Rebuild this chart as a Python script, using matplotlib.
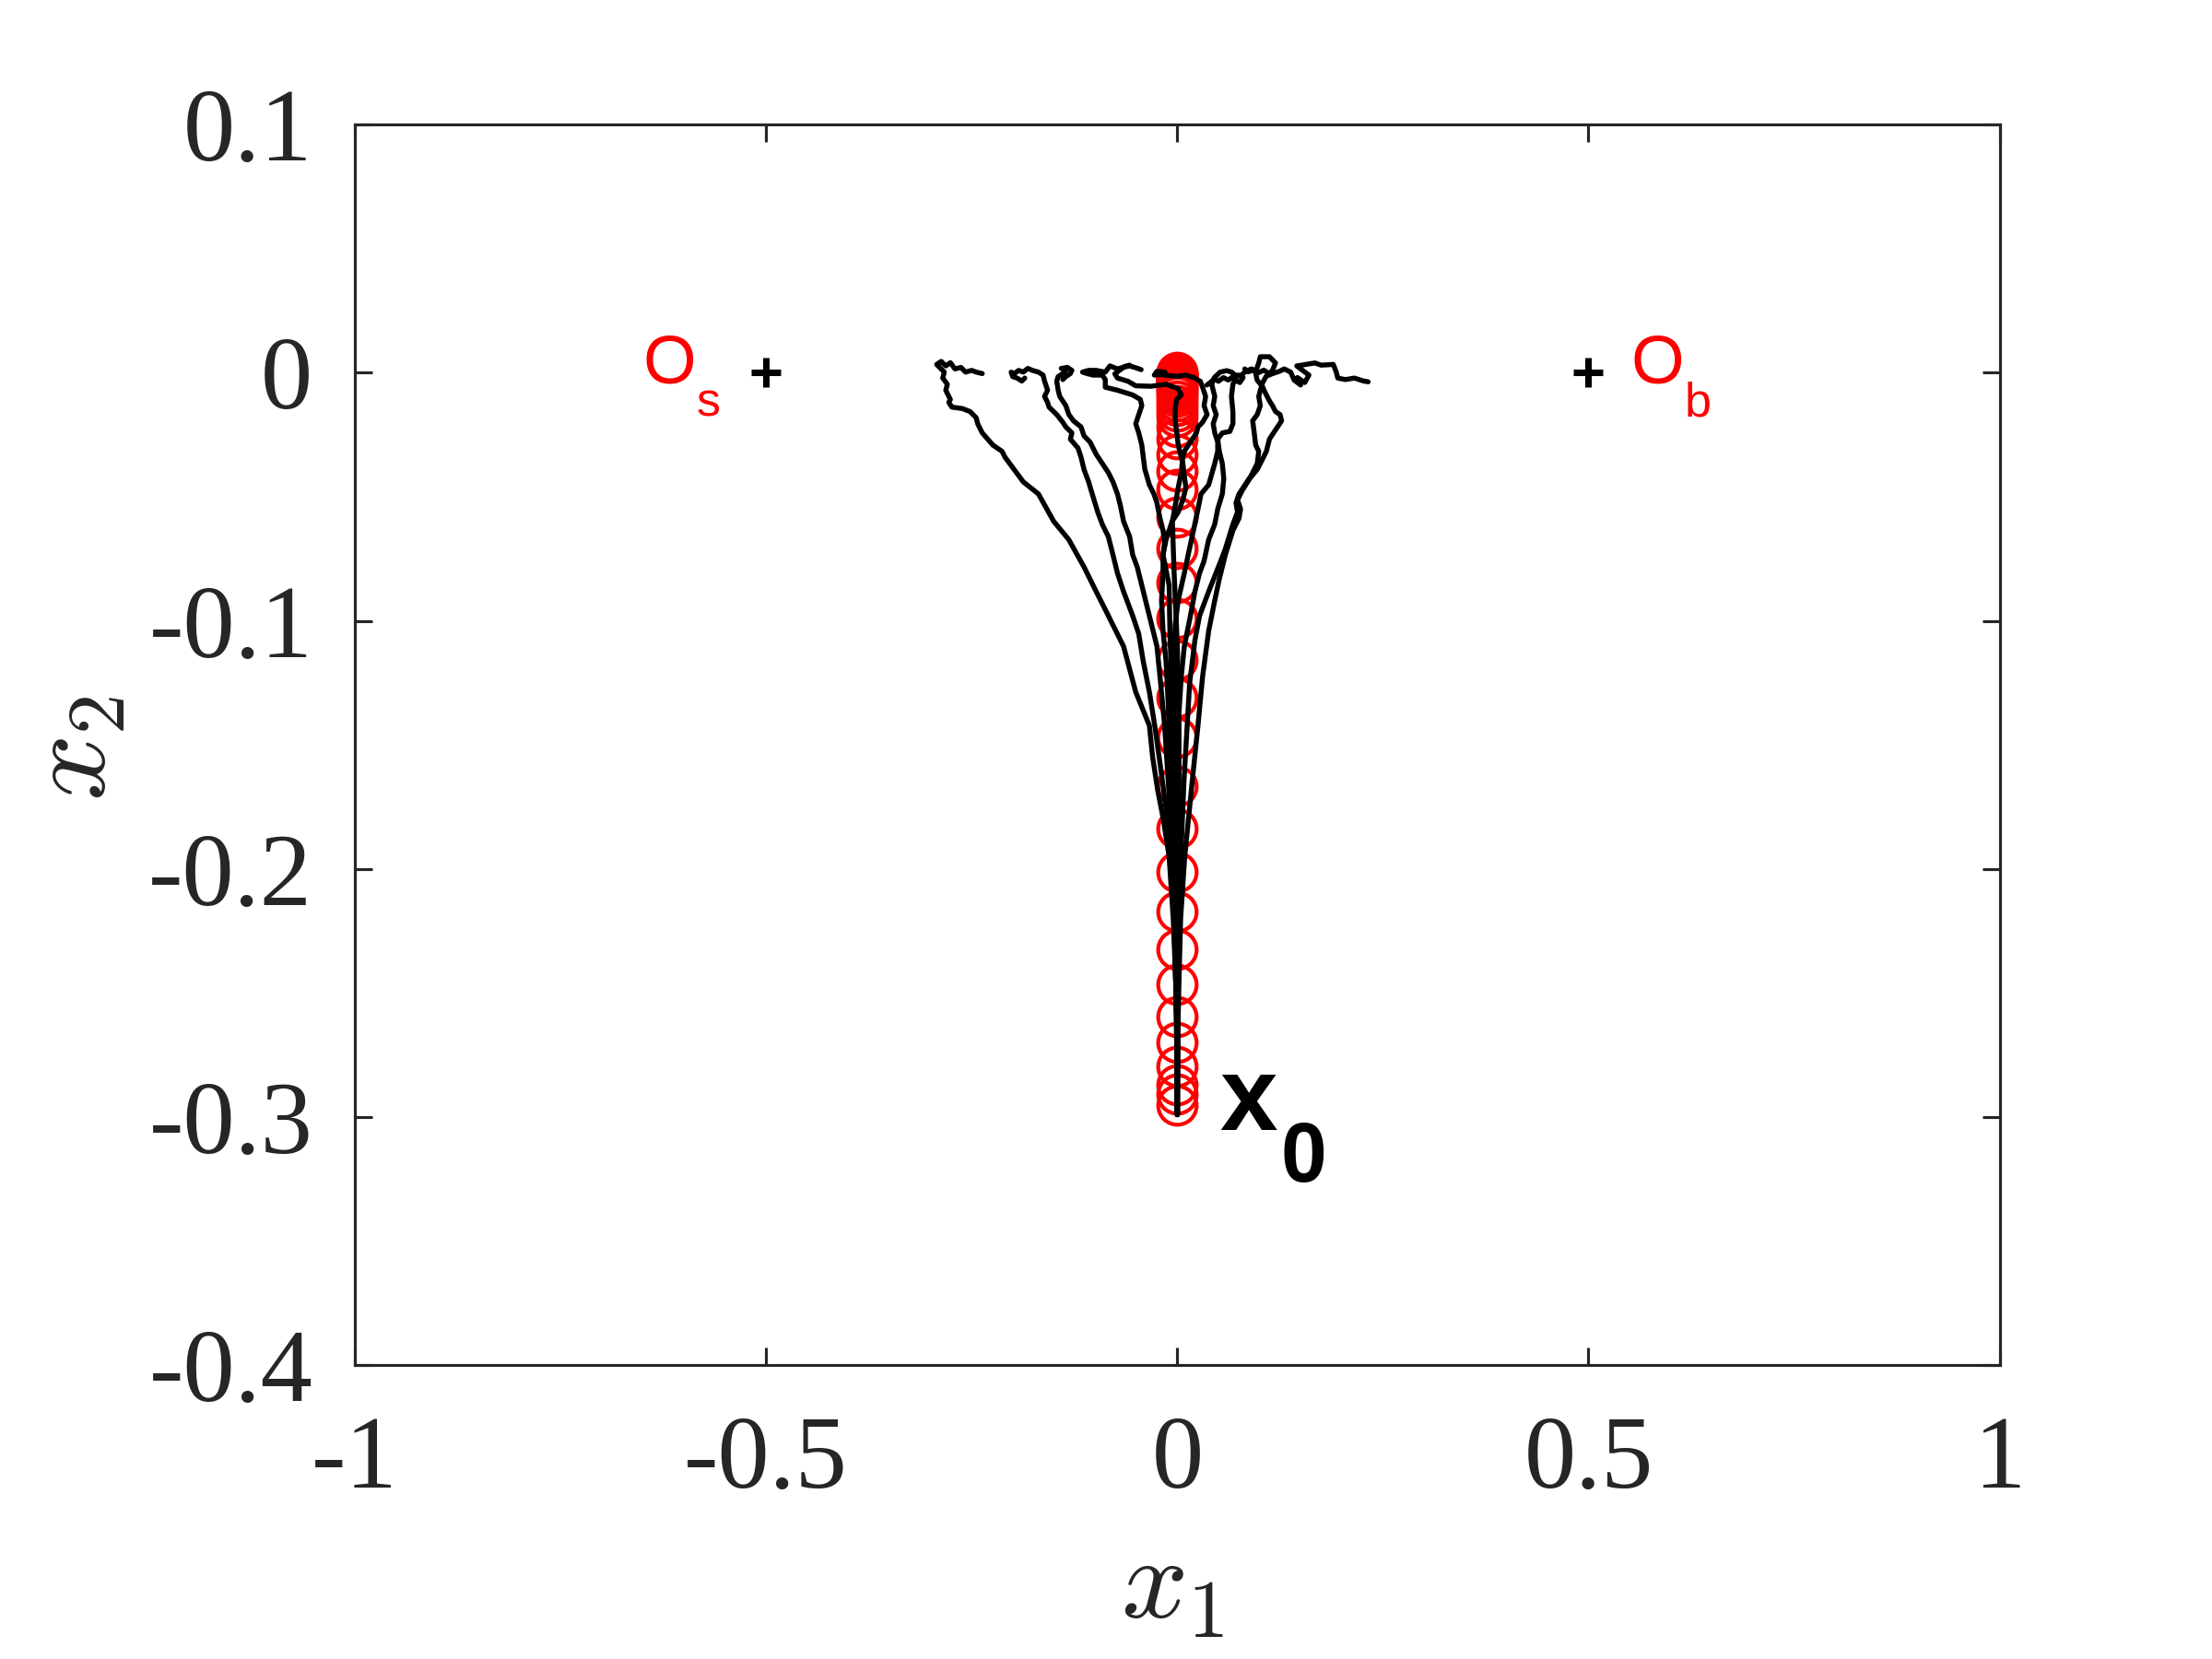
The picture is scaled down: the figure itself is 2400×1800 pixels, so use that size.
import matplotlib
matplotlib.use("Agg")
import matplotlib.pyplot as plt

plt.rcParams['font.family'] = ['Liberation Serif', 'DejaVu Serif']
plt.rcParams['mathtext.fontset'] = 'cm'

# ---------------- data ----------------
x_ticks = [-1, -0.5, 0, 0.5, 1]
x_tick_labels = ['-1', '-0.5', '0', '0.5', '1']
y_ticks = [-0.4, -0.3, -0.2, -0.1, 0.0, 0.1]
y_tick_labels = ['-0.4', '-0.3', '-0.2', '-0.1', '0', '0.1']

# equilibrium points
eq_x = [-0.5, 0.5]
eq_y = [0.0, 0.0]
eq_names = ['O', 'O']
eq_subs = ['s', 'b']

# initial state
x0_point = (0.0, -0.3)

# deterministic (mean) path sampled in time -> red circles
circle_y = [0.0, -0.0003, -0.0006, -0.0009, -0.0012, -0.0016, -0.0020, -0.0024,
            -0.0028, -0.0034, -0.0041, -0.0049, -0.0059, -0.0070, -0.0082, -0.0096,
            -0.0113, -0.0133, -0.0155, -0.0176, -0.0218, -0.0268, -0.0329, -0.0397,
            -0.0470, -0.0581, -0.0710, -0.0845, -0.0992, -0.1158, -0.1311, -0.1470,
            -0.1667, -0.1839, -0.2011, -0.2171, -0.2324, -0.2465, -0.2594, -0.2699,
            -0.2797, -0.2870, -0.2907, -0.2950]
circle_x = [0.0, 0.0, 0.0, 0.0, 0.0, 0.0, 0.0, 0.0, 0.0, 0.0, 0.0, 0.0, 0.0, 0.0, 0.0,
            0.0, 0.0, 0.0, 0.0, 0.0, 0.0, 0.0, 0.0, 0.0, 0.0, 0.0, 0.0, 0.0, 0.0, 0.0,
            0.0, 0.0, 0.0, 0.0, 0.0, 0.0, 0.0, 0.0, 0.0, 0.0, 0.0, 0.0, 0.0, 0.0]

# stochastic sample paths (x1, x2), from x0 upward
traj_a = [(0.000, -0.299), (-0.001, -0.260), (-0.002, -0.245), (-0.005, -0.220), (-0.010, -0.195),
          (-0.017, -0.180), (-0.024, -0.168), (-0.030, -0.155), (-0.034, -0.1422), (-0.0506, -0.1287),
          (-0.0654, -0.1103), (-0.0876, -0.0955), (-0.0987, -0.0882), (-0.1135, -0.0783), (-0.132, -0.0673),
          (-0.1504, -0.0599), (-0.1689, -0.0489), (-0.1874, -0.0440), (-0.2095, -0.0341), (-0.2132, -0.0317),
          (-0.2243, -0.0292), (-0.2372, -0.0243), (-0.2428, -0.0206), (-0.2446, -0.0182), (-0.2520, -0.0157),
          (-0.2613, -0.0145), (-0.2742, -0.0139), (-0.2779, -0.0120), (-0.2760, -0.0108), (-0.2779, -0.0096),
          (-0.2816, -0.0071), (-0.2797, -0.0047), (-0.2853, -0.0022), (-0.2834, 0.0002), (-0.2927, 0.0033),
          (-0.2871, 0.0045), (-0.2816, 0.0027), (-0.2760, 0.0040), (-0.2705, 0.0015), (-0.2631, 0.0021),
          (-0.2576, 0.0002), (-0.2502, 0.0009), (-0.2446, 0.0002), (-0.2372, -0.0004)]

traj_b = [(0.000, -0.299), (-0.001, -0.260), (-0.002, -0.245), (-0.004, -0.220), (-0.008, -0.195),
          (-0.014, -0.175), (-0.020, -0.160), (-0.0275, -0.1422), (-0.0340, -0.1287), (-0.0414, -0.1164),
          (-0.0469, -0.1053), (-0.0543, -0.0980), (-0.0654, -0.0882), (-0.0728, -0.0808), (-0.0783, -0.0734),
          (-0.0839, -0.0661), (-0.0913, -0.0611), (-0.0968, -0.0562), (-0.1024, -0.0501), (-0.1079, -0.0440),
          (-0.1135, -0.0390), (-0.1171, -0.0341), (-0.1208, -0.0304), (-0.1301, -0.0268), (-0.1282, -0.0243),
          (-0.1356, -0.0219), (-0.1393, -0.0200), (-0.1467, -0.0169), (-0.1560, -0.0139), (-0.1578, -0.0120),
          (-0.1615, -0.0096), (-0.1578, -0.0071), (-0.1615, -0.0034), (-0.1633, -0.0010), (-0.1689, 0.0002),
          (-0.1763, 0.0009), (-0.1818, 0.0017), (-0.1874, 0.0002), (-0.1929, 0.0009), (-0.1984, -0.0004),
          (-0.2021, 0.0002), (-0.2003, -0.0016), (-0.1948, -0.0022), (-0.1892, -0.0034), (-0.1855, -0.0022)]

traj_c = [(0.000, -0.299), (-0.001, -0.260), (-0.002, -0.245), (-0.003, -0.220), (-0.006, -0.195),
          (-0.010, -0.170), (-0.0155, -0.1422), (-0.0211, -0.1225), (-0.0248, -0.1103), (-0.0322, -0.1004),
          (-0.0377, -0.0931), (-0.0432, -0.0857), (-0.0488, -0.0783), (-0.0543, -0.0734), (-0.0580, -0.0661),
          (-0.0654, -0.0599), (-0.0691, -0.0538), (-0.0728, -0.0489), (-0.0783, -0.0440), (-0.0839, -0.0403),
          (-0.0913, -0.0366), (-0.0987, -0.0329), (-0.1061, -0.0280), (-0.1135, -0.0255), (-0.1171, -0.0219),
          (-0.1264, -0.0194), (-0.1319, -0.0169), (-0.1356, -0.0133), (-0.1430, -0.0096), (-0.1449, -0.0071),
          (-0.1467, -0.0034), (-0.1449, -0.0016), (-0.1393, -0.0004), (-0.1356, 0.0009), (-0.1412, 0.0017),
          (-0.1338, 0.0021), (-0.1282, 0.0009), (-0.1301, -0.0004), (-0.1356, -0.0016), (-0.1393, -0.0028)]

traj_d = [(0.000, -0.299), (-0.0005, -0.260), (-0.001, -0.245), (-0.002, -0.220), (-0.004, -0.195),
          (-0.007, -0.170), (-0.010, -0.1422), (-0.0118, -0.1287), (-0.0137, -0.1164), (-0.0174, -0.1041),
          (-0.0192, -0.0918), (-0.0174, -0.0808), (-0.0174, -0.0734), (-0.0155, -0.0685), (-0.0174, -0.0636),
          (-0.0211, -0.0587), (-0.0248, -0.0525), (-0.0285, -0.0489), (-0.0340, -0.0452), (-0.0395, -0.0390),
          (-0.0414, -0.0341), (-0.0432, -0.0292), (-0.0469, -0.0243), (-0.0506, -0.0206), (-0.0469, -0.0169),
          (-0.0432, -0.0133), (-0.0450, -0.0108), (-0.0543, -0.0090), (-0.0728, -0.0071), (-0.0876, -0.0059),
          (-0.0876, -0.0028), (-0.0913, -0.0010), (-0.1024, -0.0010), (-0.1098, -0.0004), (-0.1153, 0.0002),
          (-0.1080, 0.0009), (-0.0987, 0.0009), (-0.0876, 0.0002), (-0.0820, 0.0027), (-0.0728, 0.0015),
          (-0.0650, 0.0022), (-0.0580, 0.0027), (-0.0510, 0.0020), (-0.0440, 0.0012)]

traj_e = [(0.000, -0.299), (-0.001, -0.260), (-0.002, -0.220), (-0.003, -0.190), (-0.004, -0.165),
          (-0.005, -0.142), (-0.007, -0.125), (-0.009, -0.105), (-0.010, -0.0857), (-0.0137, -0.0796),
          (-0.0174, -0.0734), (-0.0137, -0.0673), (-0.0063, -0.0599), (0.0011, -0.0562), (0.0067, -0.0513),
          (0.0104, -0.0464), (0.0085, -0.0415), (0.0067, -0.0366), (0.0048, -0.0341), (0.0011, -0.0292),
          (-0.0007, -0.0243), (-0.0026, -0.0194), (-0.0026, -0.0145), (-0.0007, -0.0108), (0.0048, -0.0090),
          (0.0011, -0.0065), (-0.0137, -0.0047), (-0.0322, -0.0055), (-0.0506, -0.0053), (-0.0600, -0.0035),
          (-0.0728, -0.0022), (-0.0760, -0.0005), (-0.0700, 0.0010), (-0.0640, 0.0025), (-0.0580, 0.0030)]

traj_f = [(0.000, -0.299), (0.0005, -0.260), (0.001, -0.220), (0.002, -0.190), (0.002, -0.165),
          (0.002, -0.142), (0.000, -0.110), (-0.004, -0.080), (-0.006, -0.060), (-0.002, -0.0525),
          (0.001, -0.0464), (0.0048, -0.0403), (0.0066, -0.0341), (0.0085, -0.0317), (0.0159, -0.0280),
          (0.0233, -0.0243), (0.0251, -0.0219), (0.0307, -0.0200), (0.0362, -0.0169), (0.0325, -0.0133),
          (0.0344, -0.0096), (0.0307, -0.0059), (0.0280, -0.0035), (0.0200, -0.0020), (0.0100, -0.0010),
          (0.0000, -0.0015), (-0.0100, -0.0012), (-0.0200, -0.0008), (-0.0280, -0.0010), (-0.0250, 0.0005),
          (-0.0150, 0.0002)]

traj_g = [(0.000, -0.299), (-0.0005, -0.260), (-0.001, -0.220), (-0.002, -0.190), (-0.003, -0.165),
          (-0.004, -0.142), (-0.004, -0.115), (-0.0026, -0.1016), (0.001, -0.0918), (0.0085, -0.0808),
          (0.0141, -0.0720), (0.0196, -0.0636), (0.0251, -0.0550), (0.0288, -0.0489), (0.0381, -0.0452),
          (0.0455, -0.0366), (0.0491, -0.0317), (0.0491, -0.0280), (0.0455, -0.0243), (0.0436, -0.0206),
          (0.0473, -0.0169), (0.0436, -0.0133), (0.0455, -0.0096), (0.0418, -0.0047), (0.0450, -0.0020),
          (0.0520, 0.0002), (0.0600, 0.0008), (0.0660, 0.0002), (0.0720, -0.0015), (0.0780, -0.0010),
          (0.0830, 0.0005), (0.0900, 0.0015), (0.0940, 0.0010)]

traj_h = [(0.000, -0.299), (0.0003, -0.260), (0.0005, -0.220), (0.001, -0.190), (0.001, -0.165),
          (0.001, -0.1422), (0.0048, -0.1225), (0.0085, -0.1103), (0.0159, -0.0980), (0.0214, -0.0882),
          (0.0270, -0.0808), (0.0325, -0.0759), (0.0381, -0.0673), (0.0455, -0.0611), (0.0491, -0.0550),
          (0.0547, -0.0489), (0.0565, -0.0427), (0.0547, -0.0366), (0.0510, -0.0317), (0.0491, -0.0268),
          (0.0547, -0.0243), (0.0639, -0.0237), (0.0676, -0.0206), (0.0676, -0.0157), (0.0658, -0.0096),
          (0.0676, -0.0047), (0.0700, -0.0030), (0.0760, -0.0040), (0.0800, -0.0020), (0.0740, -0.0010),
          (0.0680, -0.0015), (0.0620, -0.0030), (0.0560, -0.0020), (0.0500, -0.0035), (0.0450, -0.0025),
          (0.0400, -0.0040), (0.0360, -0.0050)]

traj_i = [(0.000, -0.299), (0.0005, -0.260), (0.0015, -0.236), (0.003, -0.212), (0.005, -0.189),
          (0.008, -0.165), (0.012, -0.142), (0.015, -0.125), (0.0214, -0.1078), (0.0270, -0.0980),
          (0.0381, -0.0882), (0.0528, -0.0759), (0.0584, -0.0710), (0.0676, -0.0611), (0.0732, -0.0562),
          (0.0713, -0.0525), (0.0750, -0.0489), (0.0898, -0.0415), (0.0972, -0.0366), (0.0990, -0.0317),
          (0.0953, -0.0292), (0.0935, -0.0243), (0.0916, -0.0194), (0.0972, -0.0169), (0.1009, -0.0133),
          (0.0990, -0.0096), (0.1009, -0.0071), (0.1027, -0.0053), (0.0970, -0.0030), (0.0950, 0.0002),
          (0.0990, 0.0039), (0.1009, 0.0064), (0.1120, 0.0064), (0.1194, 0.0039), (0.1157, 0.0009),
          (0.1120, -0.0004), (0.1050, 0.0010), (0.0990, 0.0000), (0.0920, 0.0010), (0.0860, 0.0003),
          (0.0820, 0.0015)]

traj_j = [(0.000, -0.299), (0.001, -0.260), (0.002, -0.245), (0.004, -0.220), (0.009, -0.195),
          (0.015, -0.175), (0.018, -0.165), (0.0251, -0.1422), (0.0307, -0.1225), (0.0381, -0.1041),
          (0.0455, -0.0918), (0.0510, -0.0832), (0.0584, -0.0734), (0.0676, -0.0636), (0.0750, -0.0587),
          (0.0769, -0.0550), (0.0732, -0.0513), (0.0787, -0.0476), (0.0880, -0.0427), (0.0972, -0.0390),
          (0.1009, -0.0366), (0.1083, -0.0317), (0.1120, -0.0268), (0.1194, -0.0231), (0.1268, -0.0194),
          (0.1249, -0.0169), (0.1194, -0.0157), (0.1157, -0.0133), (0.1120, -0.0114), (0.1083, -0.0090),
          (0.1046, -0.0065), (0.1027, -0.0047), (0.1080, -0.0015), (0.1150, -0.0005), (0.1240, 0.0005),
          (0.1300, 0.0015), (0.1378, 0.0002), (0.1420, -0.0030), (0.1500, -0.0050), (0.1460, -0.0020),
          (0.1550, -0.0040), (0.1600, -0.0010), (0.1520, 0.0010), (0.1452, 0.0027), (0.1563, 0.0033),
          (0.1674, 0.0039), (0.1748, 0.0030), (0.1896, 0.0033), (0.1933, 0.0002), (0.1951, -0.0022),
          (0.2044, -0.0028), (0.2154, -0.0022), (0.2265, -0.0034), (0.2321, -0.0037)]

trajectories = [traj_a, traj_b, traj_c, traj_d, traj_e, traj_f, traj_g, traj_h, traj_i, traj_j]

# ---------------- figure ----------------
fig = plt.figure(figsize=(8, 6), dpi=300)
ax = fig.add_axes([0.1605, 0.177, 0.7435, 0.748])

ax.plot(circle_x, circle_y, linestyle='none', marker='o', markersize=10,
        markerfacecolor='none', markeredgecolor='#ff0000', markeredgewidth=1.0, zorder=2)

for tr in trajectories:
    xs = [p[0] for p in tr]
    ys = [p[1] for p in tr]
    ax.plot(xs, ys, color='black', linewidth=1.3, solid_joinstyle='round',
            solid_capstyle='round', zorder=3)

ax.plot(eq_x, eq_y, linestyle='none', marker='+', markersize=7.5,
        markeredgewidth=1.7, color='black', zorder=4)

# labels of equilibria
ax.text(-0.650, -0.004, eq_names[0], color='#ff0000', fontsize=17.8,
        family='Liberation Sans', ha='left', va='baseline')
ax.text(-0.585, -0.0177, eq_subs[0], color='#ff0000', fontsize=12.5,
        family='Liberation Sans', ha='left', va='baseline')
ax.text(0.551, -0.004, eq_names[1], color='#ff0000', fontsize=17.8,
        family='Liberation Sans', ha='left', va='baseline')
ax.text(0.617, -0.0177, eq_subs[1], color='#ff0000', fontsize=12.5,
        family='Liberation Sans', ha='left', va='baseline')

# initial point label
ax.text(x0_point[0] + 0.051, x0_point[1] - 0.005, 'x', color='black', fontsize=27,
        family='Liberation Sans', fontweight='bold', ha='left', va='baseline')
ax.text(x0_point[0] + 0.126, x0_point[1] - 0.026, '0', color='black', fontsize=21.5,
        family='Liberation Sans', fontweight='bold', ha='left', va='baseline')

ax.set_xlim(-1, 1)
ax.set_ylim(-0.4, 0.1)
ax.set_xticks(x_ticks)
ax.set_xticklabels(x_tick_labels)
ax.set_yticks(y_ticks)
ax.set_yticklabels(y_tick_labels)

for s in ax.spines.values():
    s.set_color('#262626')
    s.set_linewidth(0.75)
ax.tick_params(direction='in', length=4.5, width=0.75, color='#262626',
               labelcolor='#262626', labelsize=27, top=True, right=True)
ax.tick_params(axis='x', pad=13)
ax.tick_params(axis='y', pad=11)

fig.text(0.530, 0.042, r'$x_1$', fontsize=30.5, color='#262626', ha='center', va='center')
fig.text(0.035, 0.549, r'$x_2$', fontsize=30.5, color='#262626', ha='center', va='center',
         rotation=90)

fig.savefig('out.png', dpi=300)
